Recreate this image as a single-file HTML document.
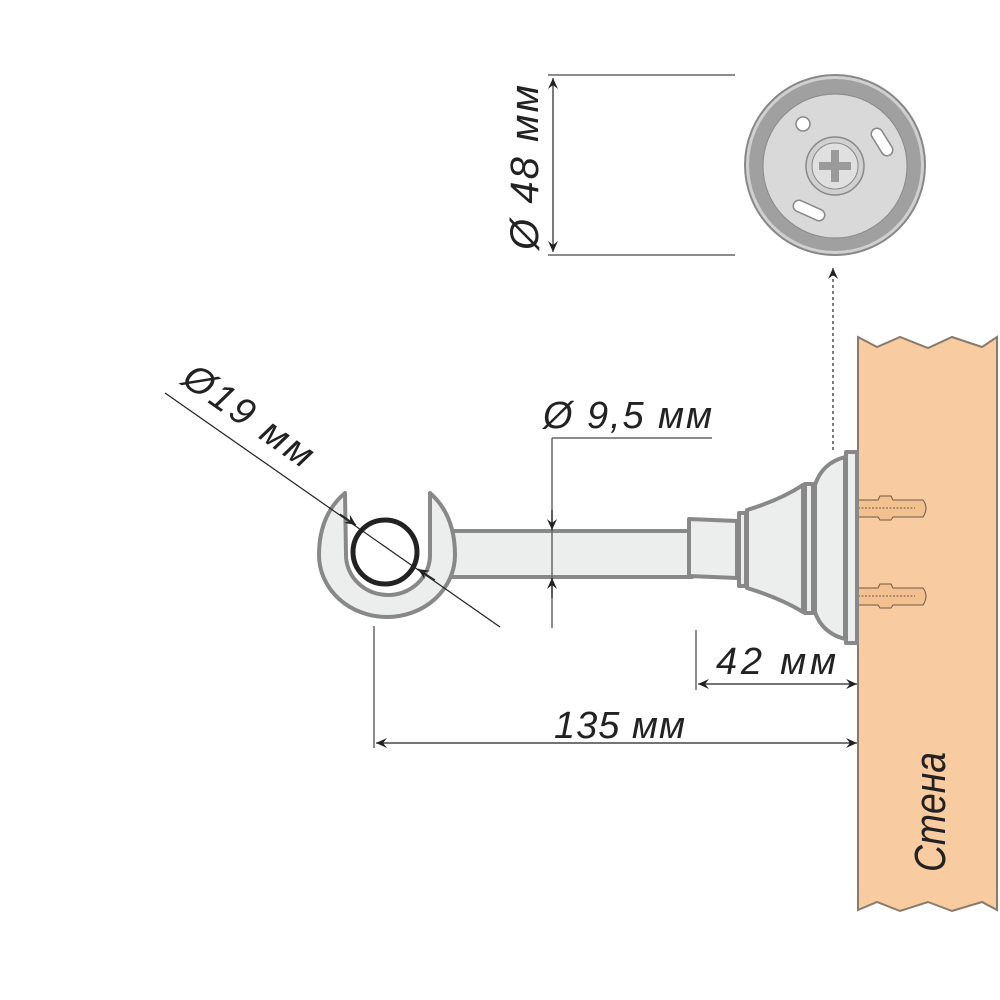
<!DOCTYPE html>
<html><head><meta charset="utf-8"><style>
html,body{margin:0;padding:0;background:#fff;}
svg{display:block;}
text{font-family:"Liberation Sans",sans-serif;font-style:italic;fill:#222;}
</style></head><body>
<svg width="1000" height="1000" viewBox="0 0 1000 1000" xmlns="http://www.w3.org/2000/svg">
<defs>
<marker id="ar" viewBox="0 0 12 10" refX="11" refY="5" markerWidth="12" markerHeight="10" markerUnits="userSpaceOnUse" orient="auto-start-reverse">
<path d="M0,0 L11,5 L0,10 L4,5 Z" fill="#222"/>
</marker>
</defs>

<!-- wall -->
<path d="M858,337 L877,347 L900,337 L928,348 L952,337 L982,347 L997,337 L997,910 L982,902 L952,911 L928,902 L900,911 L877,902 L858,910 Z" fill="#f8cba0" stroke="#8a7a6a" stroke-width="2"/>
<text transform="translate(945,872) rotate(-90)" font-size="44" textLength="120" lengthAdjust="spacingAndGlyphs">Стена</text>

<!-- screws -->
<g fill="#f3c08f" stroke="#6b5a48" stroke-width="1">
<path d="M858,500 L878,500 L880,496 L891,496 L893,500 L923,500 Q929,508 923,517 L893,517 L891,520 L880,520 L878,517 L858,517 Z"/>
<line x1="858" y1="508" x2="915" y2="508" stroke-dasharray="2,1.5"/>
<rect x="849" y="501" width="9" height="15" rx="3" fill="#e8e8e8"/>
<path d="M858,588 L878,588 L880,584 L891,584 L893,588 L923,588 Q929,596 923,605 L893,605 L891,608 L880,608 L878,605 L858,605 Z"/>
<line x1="858" y1="596" x2="915" y2="596" stroke-dasharray="2,1.5"/>
<rect x="849" y="589" width="9" height="15" rx="3" fill="#e8e8e8"/>
</g>

<!-- bracket -->
<g fill="#eceded" stroke="#888" stroke-width="4" stroke-linejoin="round">
<rect x="440" y="531" width="252" height="46"/>
<path d="M689,519 L737,521 L737,578 L689,576 Z"/>
<rect x="739" y="513" width="7" height="73"/>
<path d="M747,510 Q780,500 803,485 L803,612 Q780,598 747,588 Z"/>
<rect x="805" y="484" width="8" height="129"/>
<path d="M815,485 Q822,463 845,457 L845,639 Q822,633 815,612 Z"/>
<rect x="846" y="452" width="11" height="191"/>
<!-- U ring -->
<path d="M345,493 Q319,515 319,555 A68,62 0 0 0 455,555 Q455,515 430,493 L430,555 A42,40 0 0 1 346,555 Z"/>
</g>
<circle cx="385" cy="552" r="32" fill="none" stroke="#222" stroke-width="5"/>

<!-- wall plate top view -->
<circle cx="835" cy="165" r="90" fill="#d0d0d0" stroke="#888" stroke-width="2"/>
<circle cx="835" cy="165" r="86" fill="#a0a0a0"/>
<circle cx="835" cy="166" r="72" fill="#d9d9d9" stroke="#888" stroke-width="1"/>
<circle cx="835" cy="166" r="29" fill="#d0d0d0" stroke="#888" stroke-width="1.5"/>
<circle cx="835" cy="166" r="23" fill="#e0e0e0" stroke="#888" stroke-width="1"/>
<path d="M831,150 h8 v12 h12 v8 h-12 v12 h-8 v-12 h-12 v-8 h12 Z" fill="#9a9a9a"/>
<circle cx="803" cy="124" r="7" fill="#fff" stroke="#888" stroke-width="1.5"/>
<line x1="877" y1="134" x2="887" y2="150" stroke="#888" stroke-width="13" stroke-linecap="round"/>
<line x1="877" y1="134" x2="887" y2="150" stroke="#fff" stroke-width="10" stroke-linecap="round"/>
<line x1="799" y1="206" x2="819" y2="215" stroke="#888" stroke-width="13" stroke-linecap="round"/>
<line x1="799" y1="206" x2="819" y2="215" stroke="#fff" stroke-width="10" stroke-linecap="round"/>

<!-- dimension lines -->
<g stroke="#222" stroke-width="1.2" fill="none">
<line x1="548" y1="75" x2="735" y2="75" stroke="#666" stroke-width="1.5"/>
<line x1="548" y1="255" x2="735" y2="255" stroke="#666" stroke-width="1.5"/>
<line x1="553" y1="78" x2="553" y2="252" marker-start="url(#ar)" marker-end="url(#ar)"/>
<line x1="833" y1="450" x2="833" y2="268" stroke-dasharray="3,3" marker-end="url(#ar)"/>
<line x1="165" y1="393" x2="500" y2="627"/>
<line x1="340" y1="514" x2="356" y2="525" marker-end="url(#ar)"/>
<line x1="435" y1="580" x2="418" y2="569" marker-end="url(#ar)"/>
<line x1="552" y1="438" x2="712" y2="438" stroke="#666" stroke-width="1.5"/>
<line x1="552" y1="438" x2="552" y2="628" stroke="#666" stroke-width="1.5"/>
<line x1="552" y1="510" x2="552" y2="530" marker-end="url(#ar)"/>
<line x1="552" y1="598" x2="552" y2="578" marker-end="url(#ar)"/>
<line x1="696" y1="630" x2="696" y2="690" stroke="#666" stroke-width="1.5"/>
<line x1="698" y1="684" x2="857" y2="684" marker-start="url(#ar)" marker-end="url(#ar)"/>
<line x1="374" y1="626" x2="374" y2="748" stroke="#666" stroke-width="1.5"/>
<line x1="376" y1="743" x2="857" y2="743" marker-start="url(#ar)" marker-end="url(#ar)"/>
</g>

<text transform="translate(538,250) rotate(-90)" font-size="40" textLength="165" lengthAdjust="spacing">Ø 48  мм</text>
<text x="543" y="428" font-size="38" textLength="169" lengthAdjust="spacing">Ø 9,5  мм</text>
<text x="716" y="674" font-size="38" textLength="120" lengthAdjust="spacing">42  мм</text>
<text x="554" y="738" font-size="38" textLength="131" lengthAdjust="spacing">135  мм</text>
<text transform="translate(180,383) rotate(35)" font-size="38" textLength="150" lengthAdjust="spacing">Ø19  мм</text>
</svg>
</body></html>
